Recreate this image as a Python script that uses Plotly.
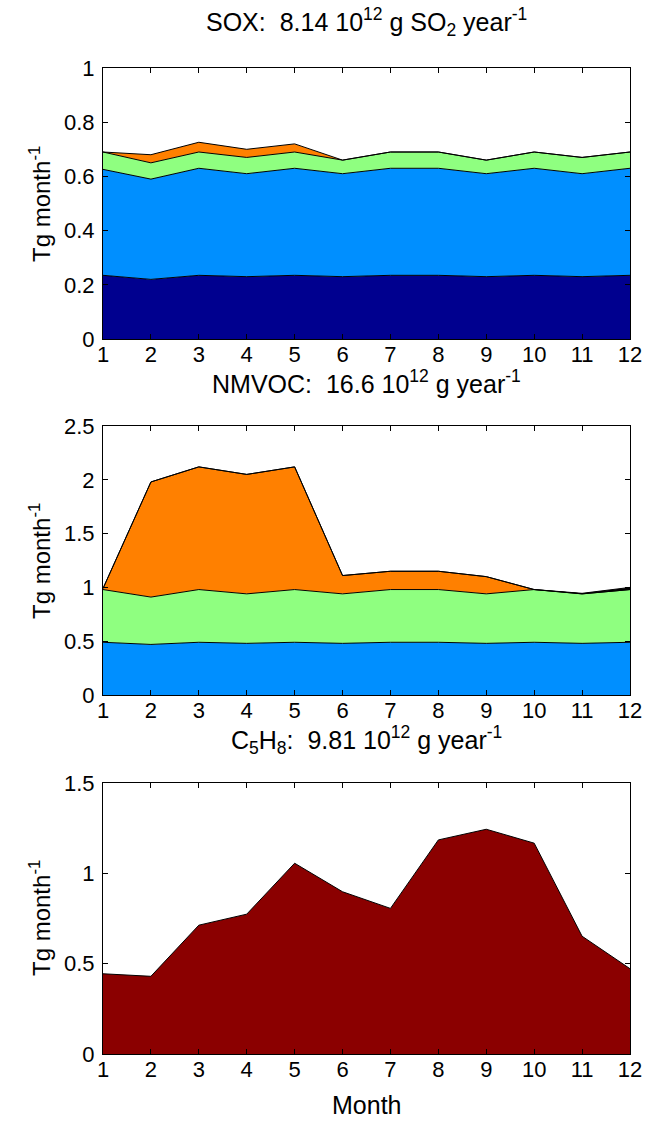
import plotly.graph_objects as go

months = list(range(1, 13))

# SOX layers (Tg/month), stacked bottom to top
sox_l1 = [0.235, 0.22, 0.235, 0.23, 0.235, 0.23, 0.235, 0.235, 0.23, 0.235, 0.23, 0.235]
sox_l2 = [0.391, 0.37, 0.395, 0.38, 0.395, 0.38, 0.395, 0.395, 0.38, 0.395, 0.38, 0.395]
sox_l3 = [0.064, 0.06, 0.06, 0.06, 0.06, 0.05, 0.06, 0.06, 0.05, 0.06, 0.06, 0.06]
sox_l4 = [0.0, 0.03, 0.036, 0.03, 0.03, 0.0, 0.0, 0.0, 0.0, 0.0, 0.0, 0.0]

# NMVOC layers
nmvoc_l2 = [0.49, 0.47, 0.49, 0.48, 0.49, 0.48, 0.49, 0.49, 0.48, 0.49, 0.48, 0.49]
nmvoc_l3 = [0.49, 0.44, 0.49, 0.46, 0.49, 0.46, 0.49, 0.49, 0.46, 0.49, 0.46, 0.49]
nmvoc_l4 = [0.01, 1.07, 1.14, 1.11, 1.14, 0.17, 0.17, 0.17, 0.16, 0.0, 0.0, 0.0]
nmvoc_l5 = [0.0, 0.0, 0.0, 0.0, 0.0, 0.0, 0.0, 0.0, 0.0, 0.0, 0.005, 0.02]

# C5H8
c5h8 = [0.444, 0.43, 0.713, 0.774, 1.056, 0.898, 0.806, 1.185, 1.244, 1.167, 0.652, 0.472]

x_ticks = [str(m) for m in months]

W, H = 646, 1121
FONT = "Liberation Sans, Arial, Helvetica, sans-serif"
FS = 22
FS_T = 25

c_dblue = "#00008F"
c_blue = "#008FFF"
c_green = "#8FFF80"
c_orange = "#FF8000"
c_dred = "#8B0000"

fig = go.Figure()

def add_layer(y, color, xa, ya, group):
    fig.add_trace(go.Scatter(
        x=months, y=y, mode="lines", stackgroup=group,
        line=dict(color="black", width=1), fillcolor=color,
        xaxis=xa, yaxis=ya, showlegend=False, hoverinfo="skip"))

add_layer(sox_l1, c_dblue, "x", "y", "a")
add_layer(sox_l2, c_blue, "x", "y", "a")
add_layer(sox_l3, c_green, "x", "y", "a")
add_layer(sox_l4, c_orange, "x", "y", "a")

add_layer(nmvoc_l2, c_blue, "x2", "y2", "b")
add_layer(nmvoc_l3, c_green, "x2", "y2", "b")
add_layer(nmvoc_l4, c_orange, "x2", "y2", "b")
add_layer(nmvoc_l5, "black", "x2", "y2", "b")

add_layer(c5h8, c_dred, "x3", "y3", "c")

def px(v):
    return v / W

def ydom(top, bot):
    return [1 - bot / H, 1 - top / H]

xl, xr = px(103), px(630)

axis_common = dict(showline=True, linecolor="black", linewidth=1, mirror="ticks",
                   ticks="inside", ticklen=5, tickcolor="black", showgrid=False,
                   zeroline=False, automargin=False,
                   tickfont=dict(family=FONT, size=FS, color="black"))

xcommon = dict(axis_common, range=[1, 12], tickmode="array", tickvals=months,
               ticktext=x_ticks, ticklabeloverflow="allow", ticklabelstandoff=-4)
ycommon = dict(axis_common, ticklabelstandoff=3)

fig.update_layout(
    width=W, height=H, margin=dict(l=0, r=0, t=0, b=0, autoexpand=False),
    paper_bgcolor="white", plot_bgcolor="white",
    font=dict(family=FONT, size=FS, color="black"),
    xaxis=dict(xcommon, domain=[xl, xr], anchor="y"),
    yaxis=dict(ycommon, domain=ydom(68, 339), range=[0, 1], dtick=0.2, anchor="x"),
    xaxis2=dict(xcommon, domain=[xl, xr], anchor="y2"),
    yaxis2=dict(ycommon, domain=ydom(426, 695), range=[0, 2.5], dtick=0.5, anchor="x2"),
    xaxis3=dict(xcommon, domain=[xl, xr], anchor="y3"),
    yaxis3=dict(ycommon, domain=ydom(783, 1054), range=[0, 1.5], dtick=0.5, anchor="x3"),
)

cx = px((103 + 630) / 2)
def ann(text, x, y, angle=0, size=FS_T):
    fig.add_annotation(text=text, x=x, y=1 - y / H, xref="paper", yref="paper",
                       showarrow=False, textangle=angle, xanchor="center", yanchor="middle",
                       font=dict(family=FONT, size=size, color="black"))

ann("SOX:  8.14 10<sup>12</sup> g SO<sub>2</sub> year<sup>-1</sup>", cx, 22)
ann("NMVOC:  16.6 10<sup>12</sup> g year<sup>-1</sup>", cx, 382)
ann("C<sub>5</sub>H<sub>8</sub>:  9.81 10<sup>12</sup> g year<sup>-1</sup>", cx, 740)
ann("Month", cx, 1105)
ann("Tg month<sup>-1</sup>", px(40), 204, -90, FS_T - 1)
ann("Tg month<sup>-1</sup>", px(40), 561, -90, FS_T - 1)
ann("Tg month<sup>-1</sup>", px(40), 918, -90, FS_T - 1)

fig.write_html(
    "out.html",
    config={"displayModeBar": False},
    post_script="document.body.style.margin='0';document.body.style.overflow='hidden';",
)
